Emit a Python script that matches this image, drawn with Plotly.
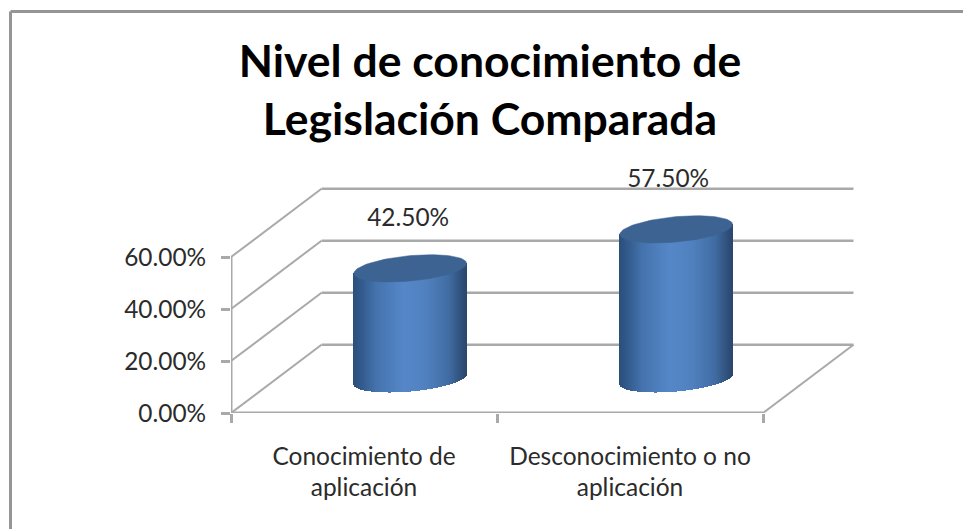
import numpy as np
import plotly.graph_objects as go

# --- chart data ---
TITLE = "Nivel de conocimiento de<br>Legislación Comparada"
CATEGORIES = ["Conocimiento de<br>aplicación", "Desconocimiento o no<br>aplicación"]
VALUES = [0.425, 0.575]
Y_TICKS = [0.0, 0.2, 0.4, 0.6]
X_CENTERS = [0.5, 1.5]

# --- pseudo-3D geometry, in axis units ---
W, H = 963, 529
PLOT_L, PLOT_R, PLOT_T, PLOT_B = 231, 869, 151, 413
PX_X, PX_Y = 266.0, 260.0          # pixels per axis unit
DX, DY = 90.5 / PX_X, 68.3 / PX_Y  # depth offset of the back wall
DEPTH_X, DEPTH_Y = 0.51, 0.50       # where the cylinders stand on the floor
RX = 56.3 / PX_X                    # cylinder radius
RY = 12.7 / PX_Y                    # ellipse half height
TILT = 5.0 / PX_Y                   # ellipse shear
LABEL_SHIFT_PX = [-2, -8]           # horizontal nudge of each data label
GRID = "#a9a9a9"
TEXT = "#2b2b2b"
FONT = "Lato"

STOPS_U = [-1.0, -0.85, -0.6, -0.1, 0.3, 0.7, 0.9, 1.0]
STOPS_C = [(44, 78, 122), (50, 90, 140), (68, 114, 172), (85, 135, 200),
           (80, 128, 190), (64, 108, 162), (48, 82, 125), (42, 72, 110)]


def strip_color(u):
    rgb = [np.interp(u, STOPS_U, [c[i] for c in STOPS_C]) for i in range(3)]
    return "rgb({:.0f},{:.0f},{:.0f})".format(*rgb)


def px2paper_x(p):
    return (p - PLOT_L) / (PLOT_R - PLOT_L)


def px2paper_y(p):
    return (PLOT_B - p) / (PLOT_B - PLOT_T)


fig = go.Figure()

# back walls, floor and axes go below the traces
shapes = []


def seg(x0, y0, x1, y1, width=2.0, color=GRID):
    shapes.append(dict(type="line", xref="x", yref="y", layer="below",
                       x0=x0, y0=y0, x1=x1, y1=y1,
                       line=dict(color=color, width=width)))


for v in Y_TICKS:
    seg(0, v, DX, v + DY, 2)
    seg(DX, v + DY, 2 + DX, v + DY, 2.5)
seg(2, 0, 2 + DX, DY, 2)
seg(0, 0, 2, 0, 3)
seg(0, 0, 0, max(Y_TICKS), 3)

# chart frame (top and left edges only)
for (x0, y0, x1, y1) in [(10.5, 11.5, 963, 11.5), (10.5, 11.5, 10.5, 529)]:
    shapes.append(dict(type="line", xref="paper", yref="paper",
                       x0=px2paper_x(x0), y0=px2paper_y(y0),
                       x1=px2paper_x(x1), y1=px2paper_y(y1),
                       line=dict(color="#959595", width=3)))

# cylinders: shaded strips built from each value
for cat, xc, val, shift in zip(CATEGORIES, X_CENTERS, VALUES, LABEL_SHIFT_PX):
    cx = xc + DEPTH_X * DX
    c0 = DEPTH_Y * DY
    n = int(round(2 * RX * PX_X))
    u = (np.arange(n) + 0.5) / n * 2 - 1
    sx = cx + u * RX
    bottom = c0 + TILT * u - RY * np.sqrt(1 - u ** 2)
    top = c0 + val + TILT * u
    fig.add_trace(go.Bar(x=sx, y=top - bottom, base=bottom, width=2 * RX / n,
                         marker=dict(color=[strip_color(a) for a in u], line=dict(width=0)),
                         hoverinfo="skip", showlegend=False))
    t = np.linspace(0, 2 * np.pi, 90)
    fig.add_trace(go.Scatter(x=cx + RX * np.cos(t),
                             y=c0 + val + TILT * np.cos(t) + RY * np.sin(t),
                             mode="lines", fill="toself", fillcolor="#3c6391",
                             line=dict(color="#3c6391", width=0.5),
                             hoverinfo="skip", showlegend=False))
    fig.add_trace(go.Scatter(x=[cx + shift / PX_X], y=[c0 + val + 48.5 / PX_Y],
                             mode="text", text=[f"{val:.2%}"], textposition="middle center",
                             textfont=dict(family=FONT, size=24.4, color=TEXT),
                             cliponaxis=False, hoverinfo="skip", showlegend=False))

fig.update_layout(
    width=W, height=H, barmode="overlay", bargap=0,
    margin=dict(l=PLOT_L, r=W - PLOT_R, t=PLOT_T, b=H - PLOT_B, autoexpand=False),
    paper_bgcolor="white", plot_bgcolor="white", shapes=shapes, showlegend=False,
    title=dict(text=TITLE, x=490 / W, xanchor="center", y=1 - 77 / H, yanchor="top",
               font=dict(family=FONT, size=44.5, color="black", weight=700)),
    xaxis=dict(range=[0, (PLOT_R - PLOT_L) / PX_X], tickmode="array", tickvals=X_CENTERS,
               ticktext=CATEGORIES, ticks="", showgrid=False, zeroline=False, showline=False,
               tickangle=0, ticklabelstandoff=26,
               tickfont=dict(family=FONT, size=24.5, color=TEXT),
               minor=dict(tick0=0, dtick=1, ticks="outside", ticklen=9, tickwidth=3,
                          tickcolor=GRID, showgrid=False)),
    yaxis=dict(range=[0, (PLOT_B - PLOT_T) / PX_Y], tickmode="array", tickvals=Y_TICKS,
               tickformat=".2%", ticks="outside", ticklen=9, tickwidth=2.5, tickcolor=GRID,
               showgrid=False, zeroline=False, showline=False, ticklabelstandoff=10,
               tickfont=dict(family=FONT, size=24.4, color=TEXT)),
)

fig.write_html("out.html", config={"displayModeBar": False},
               post_script="document.body.style.margin='0';")
